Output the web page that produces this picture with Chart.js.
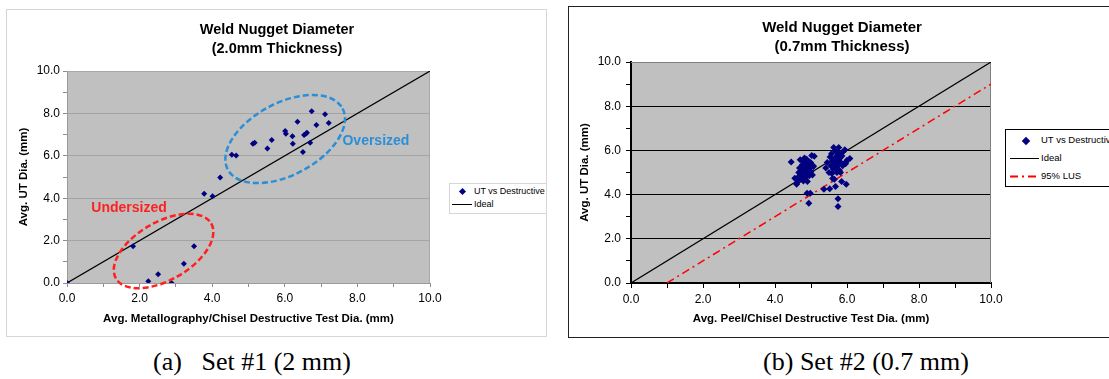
<!DOCTYPE html>
<html>
<head>
<meta charset="utf-8">
<script src="https://cdn.jsdelivr.net/npm/chart.js@4.4.1/dist/chart.umd.min.js"></script>
<style>
  html, body { margin: 0; padding: 0; }
  body { width: 1109px; height: 379px; overflow: hidden; background: #fff; position: relative;
         font-family: 'Liberation Sans', Arial, sans-serif; }
  .panel { position: absolute; box-sizing: border-box; overflow: hidden; background: #fff; }
  .panel canvas { position: absolute; left: 0; top: 0; }
  .title { position: absolute; width: 300px; text-align: center; font-weight: bold; line-height: 19px; color: #000; }
  .lg { position: absolute; box-sizing: border-box; background: #fff; }
  .lg span { position: absolute; white-space: nowrap; color: #000; }
  .dia { position: absolute; width: 5px; height: 5px; background: #000080; transform: rotate(45deg); }
  .caption { position: absolute; top: 347px; height: 30px; line-height: 30px; width: 400px; text-align: center;
             font-family: 'Liberation Serif', 'Times New Roman', serif; font-size: 26px; white-space: pre; color: #000; }
</style>
</head>
<body>

<div class="panel" id="p1" style="left:6px; top:9px; width:541px; height:328px; border:1px solid #d6d6d6;">
  <canvas id="chart1"></canvas>
  <div class="title" style="left:120px; top:10px; font-size:14.5px;">Weld Nugget Diameter<br>(2.0mm Thickness)</div>
  <div class="lg" style="left:442px; top:173px; width:120px; height:31px; border:1px solid #d6d6d6; font-size:9px;">
    <div class="dia" style="left:10px; top:5px;"></div>
    <span style="left:24px; top:2px;">UT vs Destructive</span>
    <div style="position:absolute; left:2px; top:20px; width:20px; border-top:1px solid #000;"></div>
    <span style="left:24px; top:15px;">Ideal</span>
  </div>
</div>

<div class="panel" id="p2" style="left:568px; top:6px; width:560px; height:332px; border:1px solid #222;">
  <canvas id="chart2"></canvas>
  <div class="title" style="left:123px; top:10px; font-size:15px;">Weld Nugget Diameter<br>(0.7mm Thickness)</div>
  <div class="lg" style="left:436px; top:122px; width:140px; height:58px; border:1px solid #000; font-size:9.5px;">
    <div class="dia" style="left:17px; top:8px; width:6px; height:6px;"></div>
    <span style="left:35px; top:4px;">UT vs Destructive</span>
    <div style="position:absolute; left:4px; top:28px; width:29px; border-top:1px solid #000;"></div>
    <span style="left:35px; top:22px;">Ideal</span>
    <svg style="position:absolute; left:4px; top:45px;" width="30" height="3"><line x1="0" y1="1.5" x2="30" y2="1.5" stroke="#ff0000" stroke-width="2" stroke-dasharray="8,4,2,4"/></svg>
    <span style="left:35px; top:40px;">95% LUS</span>
  </div>
</div>

<div class="caption" style="left:52px;">(a)   Set #1 (2 mm)</div>
<div class="caption" style="left:666px;">(b) Set #2 (0.7 mm)</div>

<script>
// --- Dados ---
const set1X = [0.00, 1.82, 2.24, 2.51, 2.88, 3.22, 3.50, 3.78, 4.01, 4.22, 4.54, 4.66, 5.12, 5.17, 5.52,
               5.64, 6.01, 6.03, 6.21, 6.22, 6.35, 6.50, 6.53, 6.58, 6.61, 6.70, 6.74, 6.87, 7.11, 7.21];
const set1Y = [0.00, 1.73, 0.08, 0.41, 0.00, 0.91, 1.73, 4.21, 4.09, 4.98, 6.05, 6.01, 6.57, 6.62, 6.35,
               6.75, 7.17, 7.04, 6.92, 6.57, 7.61, 6.18, 6.98, 7.04, 7.09, 6.62, 8.10, 7.45, 7.96, 7.55];

const set2X = [4.45, 4.55, 4.60, 4.62, 4.65, 4.66, 4.68, 4.70, 4.72, 4.73, 4.75, 4.76, 4.78, 4.79, 4.80,
               4.81, 4.82, 4.83, 4.85, 4.86, 4.87, 4.88, 4.89, 4.90, 4.91, 4.92, 4.93, 4.94, 4.95, 4.96,
               4.98, 4.99, 5.00, 5.02, 5.04, 5.06, 5.07, 5.09, 4.70, 4.84,
               5.36, 5.41, 5.45, 5.50, 5.52, 5.53, 5.55, 5.57, 5.58, 5.60, 5.61, 5.62, 5.63, 5.64, 5.65,
               5.66, 5.68, 5.69, 5.70, 5.71, 5.72, 5.73, 5.75, 5.75, 5.76, 5.77, 5.78, 5.79, 5.80, 5.82,
               5.83, 5.85, 5.86, 5.88, 5.90, 5.94, 5.96, 5.97, 5.98, 6.00, 6.08];
const set2Y = [5.47, 4.74, 4.47, 4.55, 4.80, 5.00, 5.20, 5.58, 4.70, 5.10, 4.90, 5.35, 5.05, 4.62, 5.50,
               5.25, 5.66, 4.95, 5.15, 4.80, 5.40, 5.60, 4.06, 4.59, 5.00, 5.30, 5.50, 3.61, 4.85, 5.20,
               4.06, 5.45, 5.05, 5.77, 4.89, 5.30, 5.27, 5.74, 4.88, 5.08,
               4.24, 5.20, 5.45, 5.00, 4.27, 5.70, 5.30, 5.85, 4.95, 4.73, 5.50, 5.15, 6.13, 5.60, 4.70,
               5.40, 4.37, 5.95, 5.20, 5.75, 5.00, 5.55, 3.81, 3.46, 5.35, 6.13, 5.85, 5.10, 5.65, 5.00,
               5.45, 4.59, 5.75, 5.30, 5.95, 6.03, 5.40, 5.47, 4.47, 5.55, 5.63];

const idealX = [0, 10];
const idealY = [0, 10];
const lusX = [1, 10];
const lusY = [0, 9];

const axisMin = 0, axisMax = 10, axisStep = 1;

const FONT = "'Liberation Sans', Arial, sans-serif";
const pts = (xs, ys) => xs.map((v, i) => ({ x: v, y: ys[i] }));

// fundo cinza da área do gráfico + moldura
const plotBg = {
  id: 'plotBg',
  beforeDraw(chart, args, o) {
    const { ctx, chartArea: a } = chart;
    ctx.save();
    ctx.fillStyle = o.color;
    ctx.fillRect(a.left, a.top, a.right - a.left, a.bottom - a.top);
    ctx.restore();
  },
  beforeDatasetsDraw(chart, args, o) {
    const { ctx, chartArea: a } = chart;
    ctx.save();
    ctx.strokeStyle = o.frame;
    ctx.lineWidth = 1;
    ctx.beginPath();
    ctx.moveTo(a.left, a.top + 0.5); ctx.lineTo(a.right - 0.5, a.top + 0.5); ctx.lineTo(a.right - 0.5, a.bottom);
    ctx.stroke();
    ctx.restore();
  }
};

// elipses tracejadas e rótulos (Undersized / Oversized)
const ovals = {
  id: 'ovals',
  afterDatasetsDraw(chart, args, o) {
    const { ctx, scales: { x, y } } = chart;
    (o.items || []).forEach(e => {
      ctx.save();
      ctx.strokeStyle = e.color;
      ctx.lineWidth = 2.5;
      ctx.setLineDash([6, 3]);
      ctx.beginPath();
      ctx.ellipse(x.getPixelForValue(e.x), y.getPixelForValue(e.y), e.rx, e.ry, -e.angle * Math.PI / 180, 0, Math.PI * 2);
      ctx.stroke();
      ctx.restore();
    });
    (o.labels || []).forEach(l => {
      ctx.save();
      ctx.fillStyle = l.color;
      ctx.font = 'bold 14px ' + FONT;
      ctx.textAlign = 'center';
      ctx.textBaseline = 'middle';
      ctx.fillText(l.text, x.getPixelForValue(l.x), y.getPixelForValue(l.y));
      ctx.restore();
    });
  }
};

function makeAxes(o) {
  const tickFmt = v => (v % 2 === 0 ? v.toFixed(1) : '');
  const tickFont = { family: FONT, size: 12 };
  const titleFont = { family: FONT, size: 11.5, weight: 'bold' };
  return {
    x: {
      type: 'linear', min: axisMin, max: axisMax,
      ticks: { stepSize: axisStep, autoSkip: false, maxRotation: 0, padding: 4, color: '#000', font: tickFont, callback: tickFmt },
      grid: { drawOnChartArea: false, tickLength: o.tickLen, tickColor: o.tickColor },
      border: { color: o.axisColor, width: o.axisWidth },
      title: { display: true, text: o.xTitle, color: '#000', font: titleFont, padding: { top: 0, bottom: o.xTitlePad } },
      afterFit: s => { s.height = o.xHeight; }
    },
    y: {
      type: 'linear', min: axisMin, max: axisMax,
      ticks: { stepSize: axisStep, autoSkip: false, padding: o.yPad, color: '#000', font: tickFont, callback: tickFmt },
      grid: {
        color: c => (c.tick && c.tick.value % 2 === 0 && c.tick.value > axisMin && c.tick.value < axisMax) ? o.gridColor : 'rgba(0,0,0,0)',
        lineWidth: 1, tickLength: o.tickLen, tickColor: o.tickColor
      },
      border: { color: o.axisColor, width: o.axisWidth },
      title: { display: true, text: 'Avg. UT Dia. (mm)', color: '#000', font: titleFont, padding: { top: 4, bottom: 0 } },
      afterFit: s => { s.width = o.yWidth; }
    }
  };
}

function setupCanvas(id, w, h) {
  const c = document.getElementById(id);
  c.width = w; c.height = h;
  c.style.width = w + 'px'; c.style.height = h + 'px';
  return c;
}

// --- Gráfico (a) 2.0mm ---
const c1 = setupCanvas('chart1', 539, 326);
new Chart(c1, {
  type: 'scatter',
  data: {
    datasets: [
      { label: 'UT vs Destructive', data: pts(set1X, set1Y), pointStyle: 'rectRot', pointRadius: 3,
        backgroundColor: '#000080', borderColor: '#000080', borderWidth: 0 },
      { label: 'Ideal', data: pts(idealX, idealY), showLine: true, pointRadius: 0,
        borderColor: '#000', borderWidth: 1.2 }
    ]
  },
  options: {
    responsive: false, animation: false, events: [],
    layout: { padding: { left: 6, top: 61, right: 116, bottom: 0 } },
    scales: makeAxes({ xTitle: 'Avg. Metallography/Chisel Destructive Test Dia. (mm)', xTitlePad: 10, xHeight: 53,
                       yWidth: 54, yPad: 3, tickLen: 4, tickColor: '#8c8c8c', axisColor: '#9a9a9a', axisWidth: 1,
                       gridColor: '#a4a4a4' }),
    plugins: {
      legend: { display: false }, tooltip: { enabled: false },
      plotBg: { color: '#c0c0c0', frame: '#a8a8a8' },
      ovals: {
        items: [
          { x: 2.66, y: 1.51, rx: 55, ry: 29, angle: 30, color: '#ff2020' },
          { x: 6.01, y: 6.79, rx: 65, ry: 36, angle: 28, color: '#2a8fd6' }
        ],
        labels: [
          { text: 'Undersized', x: 1.71, y: 3.54, color: '#ff2020' },
          { text: 'Oversized', x: 8.51, y: 6.70, color: '#2a8fd6' }
        ]
      }
    }
  },
  plugins: [plotBg, ovals]
});

// --- Gráfico (b) 0.7mm ---
const c2 = setupCanvas('chart2', 558, 330);
new Chart(c2, {
  type: 'scatter',
  data: {
    datasets: [
      { label: 'UT vs Destructive', data: pts(set2X, set2Y), pointStyle: 'rectRot', pointRadius: 3.5,
        backgroundColor: '#000080', borderColor: '#000080', borderWidth: 0 },
      { label: 'Ideal', data: pts(idealX, idealY), showLine: true, pointRadius: 0,
        borderColor: '#000', borderWidth: 1.2 },
      { label: '95% LUS', data: pts(lusX, lusY), showLine: true, pointRadius: 0,
        borderColor: '#ff0000', borderWidth: 1.5, borderDash: [8, 4, 2, 4] }
    ]
  },
  options: {
    responsive: false, animation: false, events: [],
    layout: { padding: { left: 5, top: 55, right: 136, bottom: 0 } },
    scales: makeAxes({ xTitle: 'Avg. Peel/Chisel Destructive Test Dia. (mm)', xTitlePad: 11, xHeight: 54,
                       yWidth: 57, yPad: 5, tickLen: 5, tickColor: '#000', axisColor: '#000', axisWidth: 2,
                       gridColor: '#000' }),
    plugins: {
      legend: { display: false }, tooltip: { enabled: false },
      plotBg: { color: '#c0c0c0', frame: '#808080' }
    }
  },
  plugins: [plotBg]
});
</script>
</body>
</html>
